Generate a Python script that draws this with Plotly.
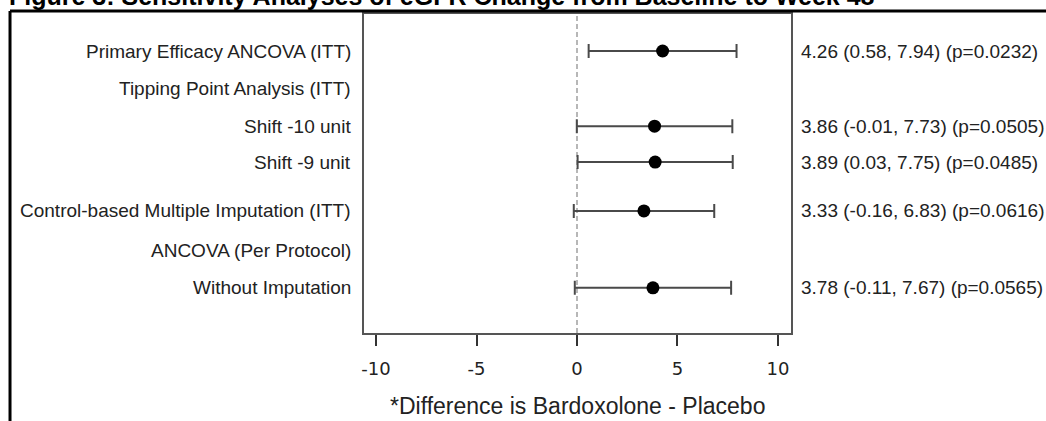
import plotly.graph_objects as go

# Forest plot rows (None = heading row without an estimate)
row_labels = [
    "Primary Efficacy ANCOVA (ITT)",
    "Tipping Point Analysis (ITT)",
    "Shift -10 unit",
    "Shift -9 unit",
    "Control-based Multiple Imputation (ITT)",
    "ANCOVA (Per Protocol)",
    "Without Imputation",
]
estimate = [4.26, None, 3.86, 3.89, 3.33, None, 3.78]
ci_lower = [0.58, None, -0.01, 0.03, -0.16, None, -0.11]
ci_upper = [7.94, None, 7.73, 7.75, 6.83, None, 7.67]
p_value = ["0.0232", None, "0.0505", "0.0485", "0.0616", None, "0.0565"]

x_ticks = [-10, -5, 0, 5, 10]
x_title = "*Difference is Bardoxolone - Placebo"
fig_title = "Figure 3: Sensitivity Analyses of eGFR Change from Baseline to Week 48"

# vertical placement of each row on the category axis
row_pos = [1, 2, 3.03, 4.0, 5.32, 6.4, 7.4]

FONT = "Liberation Sans, Arial, sans-serif"
TXT = "#222222"

pts = [(p, e, lo, hi) for p, e, lo, hi in zip(row_pos, estimate, ci_lower, ci_upper) if e is not None]
ys = [p for p, _, _, _ in pts]
xs = [e for _, e, _, _ in pts]
err_plus = [hi - e for _, e, _, hi in pts]
err_minus = [e - lo for _, e, lo, _ in pts]

fig = go.Figure()
fig.add_trace(go.Scatter(
    x=xs, y=ys, mode="markers",
    marker=dict(symbol="circle", size=13, color="black"),
    error_x=dict(type="data", symmetric=False, array=err_plus, arrayminus=err_minus,
                 color="#4a4a4a", thickness=2, width=7),
    showlegend=False, hoverinfo="skip",
))

annotations = []
for pos, lab in zip(row_pos, row_labels):
    annotations.append(dict(
        x=-0.026, xref="paper", y=pos, yref="y", text=lab, showarrow=False,
        xanchor="right", yanchor="middle", font=dict(family=FONT, size=19, color=TXT),
    ))
for pos, e, lo, hi, p in zip(row_pos, estimate, ci_lower, ci_upper, p_value):
    if e is None:
        continue
    annotations.append(dict(
        x=1.019, xref="paper", y=pos, yref="y",
        text=f"{e:.2f} ({lo:.2f}, {hi:.2f}) (p={p})", showarrow=False,
        xanchor="left", yanchor="middle", font=dict(family=FONT, size=19, color=TXT),
    ))
annotations.append(dict(
    x=0.5, xref="paper", y=-0.23, yref="paper", text=x_title, showarrow=False,
    xanchor="center", yanchor="middle", font=dict(family=FONT, size=23, color=TXT),
))
annotations.append(dict(
    x=-0.835, xref="paper", y=1.057, yref="paper", text=f"<b>{fig_title}</b>", showarrow=False,
    xanchor="left", yanchor="middle", font=dict(family=FONT, size=25, color="black"),
))

shapes = [
    # reference line at zero difference
    dict(type="line", xref="x", yref="paper", x0=0, x1=0, y0=0, y1=1,
         line=dict(color="#a0a0a0", width=1.5, dash="5px,3px"), layer="below"),
    # outer figure frame (top and left edges)
    dict(type="line", xref="paper", yref="paper", x0=-0.829, x1=1.7, y0=1.0094, y1=1.0094,
         line=dict(color="black", width=3)),
    dict(type="line", xref="paper", yref="paper", x0=-0.829, x1=-0.829, y0=1.0094, y1=-0.3,
         line=dict(color="black", width=3)),
]

fig.update_layout(
    width=1046, height=421,
    margin=dict(l=364, r=255, t=14, b=88),
    paper_bgcolor="white", plot_bgcolor="white",
    annotations=annotations, shapes=shapes,
    xaxis=dict(
        range=[-10.6, 10.65], tickvals=x_ticks, ticktext=[str(t) for t in x_ticks],
        showgrid=False, zeroline=False,
        showline=True, linecolor="#555555", linewidth=2, mirror=True,
        ticks="outside", ticklen=11, tickwidth=1.5, tickcolor="#333333",
        ticklabelstandoff=7,
        tickfont=dict(family="DejaVu Sans, sans-serif", size=18, color=TXT),
    ),
    yaxis=dict(
        range=[8.62, 0], showticklabels=False, showgrid=False, zeroline=False,
        showline=True, linecolor="#555555", linewidth=2, mirror=True, ticks="",
    ),
)

fig.write_html("out.html")
